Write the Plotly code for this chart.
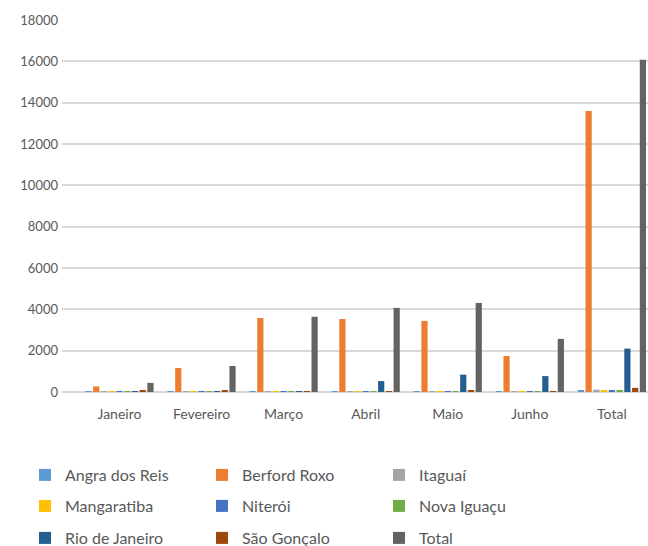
import plotly.graph_objects as go

categories = ["Janeiro", "Fevereiro", "Março", "Abril", "Maio", "Junho", "Total"]

series_names = ["Angra dos Reis", "Berford Roxo", "Itaguaí", "Mangaratiba", "Niterói",
                "Nova Iguaçu", "Rio de Janeiro", "São Gonçalo", "Total"]

angra_dos_reis = [20, 15, 10, 15, 20, 15, 60]
berford_roxo = [270, 1160, 3580, 3530, 3440, 1740, 13600]
itaguai = [15, 15, 20, 30, 25, 30, 110]
mangaratiba = [10, 10, 10, 15, 15, 10, 60]
niteroi = [15, 10, 15, 20, 20, 15, 70]
nova_iguacu = [10, 10, 10, 15, 15, 15, 60]
rio_de_janeiro = [30, 20, 20, 530, 840, 770, 2100]
sao_goncalo = [80, 60, 40, 40, 50, 40, 200]
total = [440, 1260, 3640, 4070, 4310, 2570, 16080]

series_values = [angra_dos_reis, berford_roxo, itaguai, mangaratiba, niteroi,
                 nova_iguacu, rio_de_janeiro, sao_goncalo, total]

colors = ["#5B9BD5", "#ED7D31", "#A5A5A5", "#FFC000", "#4472C4",
          "#70AD47", "#255E91", "#9E480E", "#636363"]

y_ticks = [0, 2000, 4000, 6000, 8000, 10000, 12000, 14000, 16000, 18000]
y_tick_labels = ["0", "2000", "4000", "6000", "8000", "10000", "12000",
                 "14000", "16000", "18000"]

legend_ids = ["legend", "legend", "legend", "legend2", "legend2", "legend2",
              "legend3", "legend3", "legend3"]

fig = go.Figure()
for name, vals, col, lg in zip(series_names, series_values, colors, legend_ids):
    fig.add_trace(go.Bar(x=categories, y=vals, name=name, marker_color=col,
                         marker_line_width=0, legend=lg))

W, H = 648, 546
ml, mr, mt, mb = 62, 0, 20, 154
pw = W - ml - mr
ph = H - mt - mb

def px_x(p):
    return (p - ml) / pw

def px_y(p):
    return (H - mb - p) / ph

font_color = "#595959"
legend_common = dict(orientation="h", xanchor="left", yanchor="middle",
                     entrywidth=132, entrywidthmode="pixels",
                     font=dict(family="Lato", size=16, color=font_color),
                     bgcolor="rgba(0,0,0,0)", itemwidth=30, borderwidth=0)

lx = px_x(25)

fig.update_layout(
    width=W, height=H,
    margin=dict(l=ml, r=mr, t=mt, b=mb, pad=0, autoexpand=False),
    paper_bgcolor="white", plot_bgcolor="white",
    barmode="group", bargap=0.15, bargroupgap=0.2,
    font=dict(family="Lato", size=13, color=font_color),
    xaxis=dict(range=[-0.7, 6.44], showgrid=False, showline=False, zeroline=False,
               ticks="", ticklabelstandoff=12, automargin=False,
               tickfont=dict(family="Lato", size=14, color=font_color)),
    yaxis=dict(range=[0, 18000], tickvals=y_ticks, ticktext=y_tick_labels,
               showgrid=True, automargin=False,
               gridcolor="#D9D9D9", gridwidth=1.5, zeroline=True,
               zerolinecolor="#D9D9D9", zerolinewidth=1.5, showline=False,
               ticks="", ticklabelstandoff=3,
               tickfont=dict(family="Lato", size=13, color=font_color)),
    legend=dict(x=lx, y=px_y(475), **legend_common),
    legend2=dict(x=lx, y=px_y(506), **legend_common),
    legend3=dict(x=lx, y=px_y(538), **legend_common),
    showlegend=True,
)

fig.write_html("out.html")
